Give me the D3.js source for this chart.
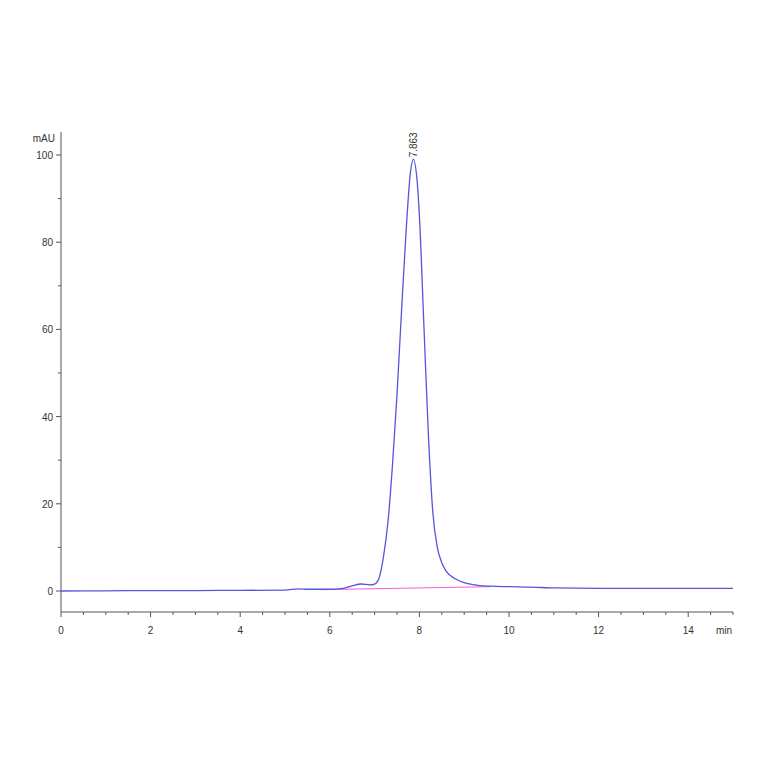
<!DOCTYPE html>
<html>
<head>
<script src="https://cdn.jsdelivr.net/npm/d3@7"></script>
<style>
body { margin: 0; background: #fff; }
text { font-family: Arial, "Liberation Sans", sans-serif; fill: #333; }
</style>
</head>
<body>
<svg id="chart" width="764" height="764"></svg>
<script>
var times = [0, 1, 2, 3, 4, 5, 5.3, 5.5, 6, 6.3, 6.5, 6.7, 6.9, 7.0, 7.1, 7.2, 7.3, 7.4, 7.5, 7.6, 7.7, 7.8, 7.863, 7.95, 8.0, 8.1, 8.2, 8.3, 8.4, 8.5, 8.6, 8.8, 9.0, 9.3, 9.6, 10, 10.5, 11, 12, 13, 14, 15];
var signal = [0, 0.05, 0.1, 0.1, 0.15, 0.2, 0.5, 0.4, 0.4, 0.6, 1.2, 1.6, 1.4, 1.6, 3, 8, 16, 29, 45, 64, 82, 96, 99, 94, 86, 61, 36, 18, 10, 6.5, 4.5, 2.8, 1.9, 1.3, 1.1, 1.0, 0.9, 0.7, 0.6, 0.6, 0.6, 0.6];
var baseT = [5.8, 9.6];
var baseV = [0.3, 1.0];
var peakT = 7.863, peakV = 99, peakLabel = "7.863";

var svg = d3.select('#chart');
var x = d3.scaleLinear().domain([0, 15]).range([61, 733]);
var y = d3.scaleLinear().domain([0, 100]).range([591, 155]);
var yTop = 132, yBot = 612;

// y axis
var ya = svg.append('g').attr('transform', 'translate(61,0)');
ya.append('line').attr('y1', yTop).attr('y2', yBot).attr('stroke', '#555');
d3.range(-10, 111, 10).forEach(function(v) {
  var major = v % 20 === 0 && v >= 0;
  var py = y(v);
  if (py < yTop || py > yBot) return;
  ya.append('line').attr('x1', major ? -5 : -3).attr('x2', 0).attr('y1', py).attr('y2', py).attr('stroke', '#555');
  if (major) ya.append('text').attr('x', -8).attr('y', py + 4).attr('text-anchor', 'end').attr('font-size', 10).text(v);
});
ya.append('text').attr('x', -6).attr('y', yTop + 10).attr('text-anchor', 'end').attr('font-size', 10).text('mAU');

// x axis
var xa = svg.append('g').attr('transform', 'translate(0,' + yBot + ')');
xa.append('line').attr('x1', 61).attr('x2', 733).attr('stroke', '#555');
d3.range(0, 15.01, 0.5).forEach(function(t) {
  var major = t % 2 === 0;
  xa.append('line').attr('x1', x(t)).attr('x2', x(t)).attr('y1', 0).attr('y2', major ? 5 : 3).attr('stroke', '#555');
  if (major) xa.append('text').attr('x', x(t)).attr('y', 22).attr('text-anchor', 'middle').attr('font-size', 10).text(t);
});
xa.append('text').attr('x', 724).attr('y', 22).attr('text-anchor', 'middle').attr('font-size', 10).text('min');

// baseline
svg.append('line').attr('x1', x(baseT[0])).attr('x2', x(baseT[1]))
  .attr('y1', y(baseV[0])).attr('y2', y(baseV[1])).attr('stroke', '#ff55dd').attr('stroke-width', 1);

// trace
var pts = times.map(function(t, i) { return [t, signal[i]]; });
svg.append('path').datum(pts)
  .attr('d', d3.line().x(function(d) { return x(d[0]); }).y(function(d) { return y(d[1]); }).curve(d3.curveMonotoneX))
  .attr('fill', 'none').attr('stroke', '#5555dd').attr('stroke-width', 1.3);

// peak label
svg.append('text').attr('transform', 'translate(' + (x(peakT) + 4) + ',' + (y(peakV) - 2) + ') rotate(-90)')
  .attr('font-size', 10).text(peakLabel);
</script>
</body>
</html>
